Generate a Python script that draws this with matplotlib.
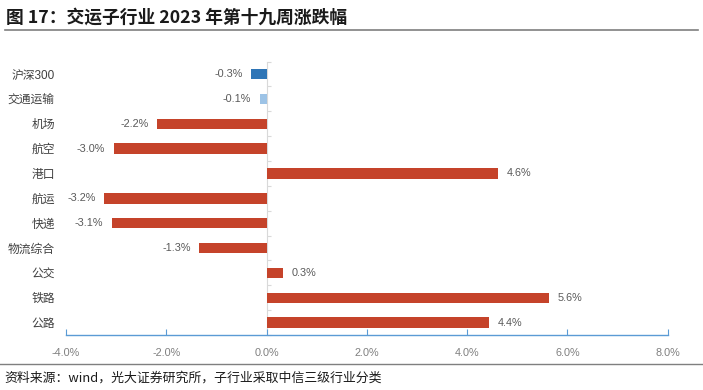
import matplotlib.pyplot as plt
from matplotlib.lines import Line2D

plt.rcParams['font.family'] = ['Liberation Sans', 'Noto Sans CJK SC', 'DejaVu Sans']

# 数据（从上到下）
categories = ["沪深300", "交通运输", "机场", "航空", "港口", "航运", "快递", "物流综合", "公交", "铁路", "公路"]
changes = [-0.31, -0.14, -2.19, -3.05, 4.62, -3.24, -3.09, -1.34, 0.33, 5.64, 4.44]
bar_colors = ["#2e75b6", "#9dc3e6"] + ["#c5432a"] * 9
xticks = [-4, -2, 0, 2, 4, 6, 8]

title = "图 17：交运子行业 2023 年第十九周涨跌幅"
source = "资料来源：wind，光大证券研究所，子行业采取中信三级行业分类"

CJK = ['Noto Sans CJK SC', 'DejaVu Sans']


def main():
    fig = plt.figure(figsize=(7.03, 3.9), dpi=100)
    ax = fig.add_axes([0.0939, 0.141, 0.856, 0.701])

    ypos = list(range(len(categories)))
    bars = ax.barh(ypos, changes, height=0.42, color=bar_colors)
    ax.bar_label(bars, labels=[f"{v:.1f}%" for v in changes], padding=6,
                 fontsize=7.8, color="#595959")

    ax.set_ylim(len(categories) - 0.5, -0.5)
    ax.set_yticks(ypos)
    ax.set_yticklabels(categories, fontsize=8.5, color="#404040")
    ax.tick_params(axis="y", length=0, pad=8)

    ax.set_xlim(-4, 8)
    ax.set_xticks(xticks)
    ax.set_xticklabels([f"{t:.1f}%" for t in xticks], fontsize=7.8, color="#7f7f7f")
    ax.tick_params(axis="x", direction="in", length=4, color="#5b9bd5", pad=9)

    for side in ("top", "right", "left"):
        ax.spines[side].set_visible(False)
    ax.spines["bottom"].set_color("#5b9bd5")
    ax.spines["bottom"].set_linewidth(1.0)

    # 零轴（带分隔刻度）
    zero = ax.secondary_yaxis(1 / 3)
    zero.set_yticks([i + 0.5 for i in range(-1, len(categories))])
    zero.tick_params(direction="in", length=3, color="#d9d9d9", labelleft=False,
                     labelright=False)
    for sp in zero.spines.values():
        sp.set_color("#d9d9d9")

    # 标题与分隔线
    fig.text(0.008, 0.955, title, fontsize=12.8, fontweight="bold",
             color="#1a1a1a", va="center", ha="left", family=CJK)
    fig.add_artist(Line2D([0.007, 0.993], [0.923, 0.923], color="#7f7f7f",
                          linewidth=1.2, transform=fig.transFigure))
    fig.add_artist(Line2D([0.0, 1.0], [0.067, 0.067], color="#7f7f7f",
                          linewidth=1.0, transform=fig.transFigure))
    fig.text(0.006, 0.031, source, fontsize=9.3, color="#1a1a1a",
             va="center", ha="left", family=CJK)

    fig.savefig("out.png", dpi=100)
    plt.close(fig)


if __name__ == "__main__":
    main()
